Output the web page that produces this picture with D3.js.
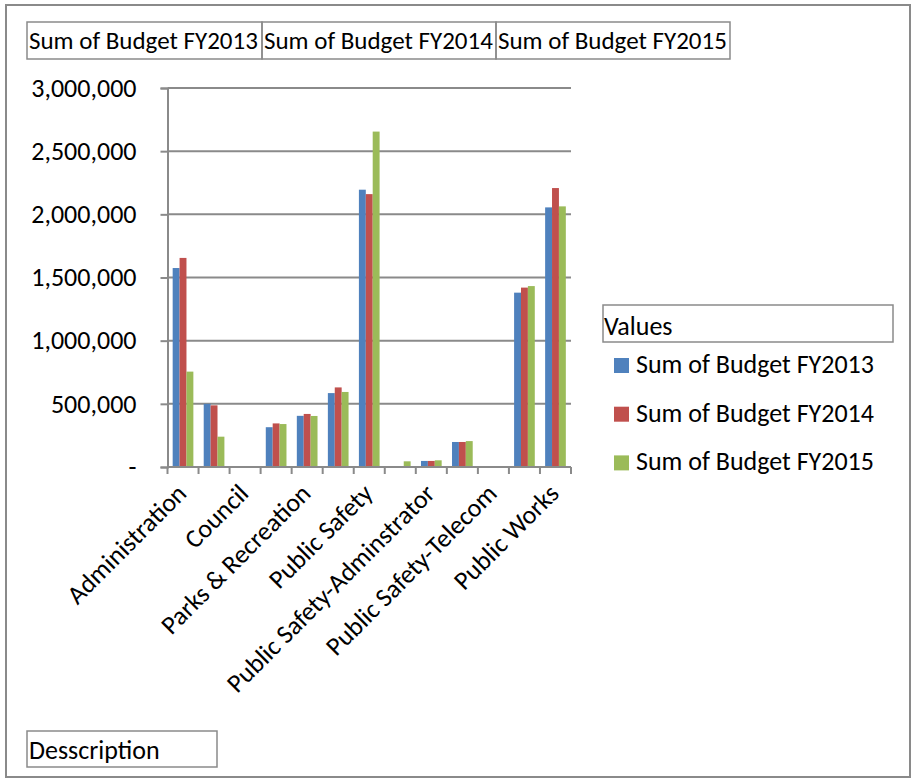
<!DOCTYPE html>
<html>
<head>
<meta charset="utf-8">
<script src="https://cdn.jsdelivr.net/npm/d3@7"></script>
<style>
	body { margin: 0; background: #fff; }
	text { font-family: Carlito, Calibri, Lato, sans-serif; fill: #000; }
</style>
</head>
<body>
<div id="chart"></div>
<script>
// categories (labels Excel skipped on the axis are left blank)
var categories = [
	'Administration', '', 'Council', '', 'Parks & Recreation', '', 'Public Safety',
	'', 'Public Safety-Adminstrator', '', 'Public Safety-Telecom', '', 'Public Works'
];
var seriesNames = ['Sum of Budget FY2013', 'Sum of Budget FY2014', 'Sum of Budget FY2015'];
var fy2013 = [1575000, 500000, 1000, 315000, 405000, 585000, 2195000, 0, 48000, 198000, 0, 1380000, 2055000];
var fy2014 = [1655000, 488000, 1000, 345000, 420000, 630000, 2160000, 0, 48000, 198000, 0, 1420000, 2208000];
var fy2015 = [755000, 240000, 1000, 340000, 404000, 594000, 2655000, 45000, 53000, 205000, 3000, 1432000, 2063000];
var yTicks = [0, 500000, 1000000, 1500000, 2000000, 2500000, 3000000];

var colors = ['#4f81bd', '#c0504d', '#9bbb59'];
var lineGray = '#8a8a8a';
var fontSize = 26;
var headerFontSize = 25;

var w = 913,
	h = 782;

var plot = { left: 167.5, right: 571, top: 88, bottom: 467 };

var svg = d3.select('#chart').append('svg').attr('width', w).attr('height', h);

svg.append('rect').attr('width', w).attr('height', h).attr('fill', '#fff');

// outer frame
svg
	.append('rect')
	.attr('x', 6)
	.attr('y', 5)
	.attr('width', 904)
	.attr('height', 772)
	.attr('fill', 'none')
	.attr('stroke', lineGray)
	.attr('stroke-width', 2);

// pivot field buttons on top
var headerEdges = [27, 262, 496, 730];
seriesNames.forEach(function(name, i) {
	svg
		.append('rect')
		.attr('x', headerEdges[i])
		.attr('y', 22)
		.attr('width', headerEdges[i + 1] - headerEdges[i])
		.attr('height', 37)
		.attr('fill', 'none')
		.attr('stroke', lineGray)
		.attr('stroke-width', 1.5);
	svg
		.append('text')
		.attr('x', headerEdges[i] + 2)
		.attr('y', 49)
		.style('font-size', headerFontSize + 'px')
		.text(name);
});

var data = categories.map(function(c, i) {
	return { i: i, label: c, values: [fy2013[i], fy2014[i], fy2015[i]] };
});

var yScale = d3.scaleLinear().domain([0, 3000000]).range([plot.bottom, plot.top]);

var xScale = d3.scaleBand().domain(d3.range(categories.length)).range([plot.left, plot.right]);

var xSub = d3.scaleBand().domain([0, 1, 2]).range([0, xScale.bandwidth()]).paddingOuter(0.75);

// gridlines
svg
	.selectAll('.grid')
	.data(yTicks.slice(1))
	.enter()
	.append('line')
	.attr('class', 'grid')
	.attr('x1', plot.left)
	.attr('x2', plot.right)
	.attr('y1', function(d) {
		return yScale(d);
	})
	.attr('y2', function(d) {
		return yScale(d);
	})
	.attr('stroke', lineGray)
	.attr('stroke-width', 2);

// y axis
var yAxis = d3
	.axisLeft(yScale)
	.tickValues(yTicks)
	.tickSize(7)
	.tickPadding(24)
	.tickFormat(function(d) {
		return d == 0 ? '-' : d3.format(',')(d);
	});

var yg = svg.append('g').attr('transform', 'translate(' + plot.left + ',0)').call(yAxis);
yg.select('.domain').attr('stroke', lineGray).attr('stroke-width', 2);
yg.selectAll('.tick line').attr('stroke', lineGray).attr('stroke-width', 2);
yg.selectAll('.tick text').style('font-size', fontSize + 'px').attr('fill', '#000').attr('font-family', null);

// bars
var groups = svg
	.selectAll('.cat')
	.data(data)
	.enter()
	.append('g')
	.attr('class', 'cat')
	.attr('transform', function(d) {
		return 'translate(' + xScale(d.i) + ',0)';
	});

groups
	.selectAll('rect')
	.data(function(d) {
		return d.values;
	})
	.enter()
	.append('rect')
	.attr('x', function(d, j) {
		return xSub(j);
	})
	.attr('width', xSub.bandwidth())
	.attr('y', function(d) {
		return yScale(d);
	})
	.attr('height', function(d) {
		return yScale(0) - yScale(d);
	})
	.attr('fill', function(d, j) {
		return colors[j];
	});

// x axis line and ticks at category boundaries
svg
	.append('line')
	.attr('x1', plot.left)
	.attr('x2', plot.right)
	.attr('y1', plot.bottom)
	.attr('y2', plot.bottom)
	.attr('stroke', lineGray)
	.attr('stroke-width', 2);

var bounds = d3.range(categories.length + 1).map(function(i) {
	return plot.left + i * xScale.step();
});
svg
	.selectAll('.xtick')
	.data(bounds)
	.enter()
	.append('line')
	.attr('class', 'xtick')
	.attr('x1', function(d) {
		return d;
	})
	.attr('x2', function(d) {
		return d;
	})
	.attr('y1', plot.bottom)
	.attr('y2', plot.bottom + 7)
	.attr('stroke', lineGray)
	.attr('stroke-width', 2);

// rotated category labels
svg
	.selectAll('.xlabel')
	.data(data.filter(function(d) {
		return d.label != '';
	}))
	.enter()
	.append('text')
	.attr('class', 'xlabel')
	.attr('text-anchor', 'end')
	.style('font-size', fontSize + 'px')
	.attr('transform', function(d) {
		var cx = xScale(d.i) + xScale.bandwidth() / 2;
		return 'translate(' + (cx + 5) + ',' + 495 + ') rotate(-45)';
	})
	.text(function(d) {
		return d.label;
	});

// legend
svg
	.append('rect')
	.attr('x', 603)
	.attr('y', 305)
	.attr('width', 290)
	.attr('height', 37)
	.attr('fill', 'none')
	.attr('stroke', lineGray)
	.attr('stroke-width', 1.5);
svg.append('text').attr('x', 604).attr('y', 335).style('font-size', fontSize + 'px').text('Values');

var legend = svg
	.selectAll('.legend')
	.data(seriesNames)
	.enter()
	.append('g')
	.attr('class', 'legend')
	.attr('transform', function(d, i) {
		return 'translate(614,' + (358 + i * 48.7) + ')';
	});
legend.append('rect').attr('width', 15).attr('height', 15).attr('fill', function(d, i) {
	return colors[i];
});
legend.append('text').attr('x', 22).attr('y', 15).style('font-size', fontSize + 'px').text(function(d) {
	return d;
});

// description button at the bottom
svg
	.append('rect')
	.attr('x', 27)
	.attr('y', 731)
	.attr('width', 190)
	.attr('height', 36)
	.attr('fill', 'none')
	.attr('stroke', lineGray)
	.attr('stroke-width', 1.5);
svg.append('text').attr('x', 29).attr('y', 759).style('font-size', fontSize + 'px').text('Desscription');
</script>
</body>
</html>
